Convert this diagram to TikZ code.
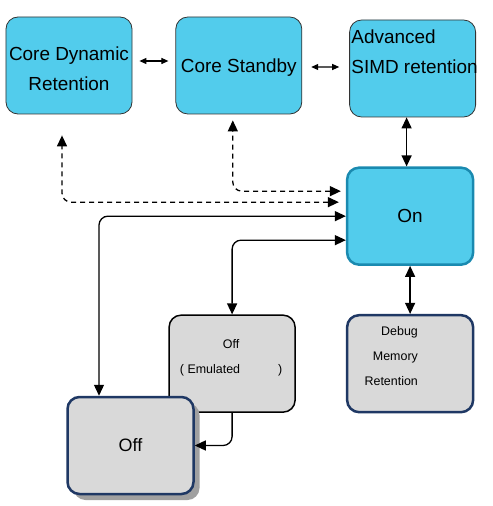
\documentclass[tikz,border=0pt]{standalone}
\usepackage{fontspec}
\setmainfont{Liberation Sans}
\usetikzlibrary{positioning,arrows.meta,shadows}

\definecolor{stateblue}{RGB}{82,204,236}
\definecolor{stategray}{RGB}{217,217,217}
\definecolor{onborder}{RGB}{26,138,176}
\definecolor{navyborder}{RGB}{31,56,100}
\definecolor{shadowgray}{RGB}{160,160,160}

\begin{document}
\begin{tikzpicture}[
    x=1bp, y=-1bp,
    every node/.style={inner sep=0pt},
    state/.style={rectangle, rounded corners=12bp, minimum width=126bp, minimum height=97bp, align=center},
    corestate/.style={state, fill=stateblue, draw=black!80, line width=0.8bp, font=\fontsize{19}{30}\selectfont},
    onstate/.style={state, fill=stateblue, draw=onborder, line width=2.5bp, font=\fontsize{19}{30}\selectfont},
    graystate/.style={state, fill=stategray, draw=navyborder, line width=2.5bp},
    smalltext/.style={font=\fontsize{12.5}{25}\selectfont},
    biarrow/.style={line width=1.3bp, {Triangle[length=11bp,width=10bp]}-{Triangle[length=11bp,width=10bp]}, rounded corners=9bp},
    onearrow/.style={line width=1.3bp, -{Triangle[length=11bp,width=10bp]}, rounded corners=9bp},
    dasharrow/.style={biarrow, dash pattern=on 5bp off 4bp},
    smallarrow/.style={line width=1.1bp, {Triangle[length=7bp,width=6bp]}-{Triangle[length=7bp,width=6bp]}}
  ]
    \useasboundingbox (0,0) rectangle (493,506);

    % Nodes
    \node[corestate] (cdr) at (69,65.5) {};
    \node[font=\fontsize{19}{30}\selectfont, align=center] (cdrtext) at ([yshift=-3bp]cdr.center) {Core Dynamic\\Retention};
    \node[corestate, right=43bp of cdr] (cs) {};
    \node[font=\fontsize{19}{30}\selectfont] (cstext) at ([yshift=-2bp]cs.center) {Core Standby};
    \node[corestate, right=47bp of cs, yshift=-3bp] (asimd) {};
    \node[font=\fontsize{19}{30}\selectfont, align=left, anchor=north west] (asimdtext) at ([xshift=2bp, yshift=-10bp]asimd.north west) {Advanced\\SIMD retention};
    \node[onstate, below=49bp of asimd, xshift=-2.5bp] (on) {On};
    \node[graystate, below=48bp of on] (debug) {};
    \node[smalltext, align=right, anchor=east] (debugtext) at ([xshift=8bp, yshift=7.5bp]debug.center) {Debug\\Memory\\Retention};
    \node[graystate, draw=black, line width=1.5bp, left=50bp of debug] (emu) {};
    \node[smalltext, align=center] (emutext) at ([xshift=-1bp, yshift=6bp]emu.center) {Off\\( Emulated\hspace{38bp})};
    \node[graystate, font=\fontsize{18}{24}\selectfont, drop shadow={shadow xshift=6bp, shadow yshift=-6bp, fill=shadowgray, opacity=1}] (off) at (130.5,445.5) {Off};

    % Arrows
    \draw[smallarrow, shorten <=7bp, shorten >=7bp] ([yshift=4.5bp]cdr.east) -- ([yshift=4.5bp]cs.west);
    \draw[smallarrow, shorten <=9bp, shorten >=10bp] ([yshift=-1.5bp]cs.east) -- ([yshift=1.5bp]asimd.west);
    \draw[biarrow] ([xshift=-6bp]asimd.south) -- ([xshift=-6bp]asimd.south |- on.north);
    \draw[biarrow] (on.south) -- (debug.north);
    \draw[dasharrow, shorten <=5bp, shorten >=6bp] ([yshift=25bp]on.west) -| ([xshift=-6bp]cs.south);
    \draw[dasharrow, shorten <=7bp, shorten >=21bp] ([yshift=14bp]on.west) -| ([xshift=-7bp]cdr.south);
    \draw[biarrow] (on.west) -| ([xshift=-31.5bp]off.north);
    \draw[biarrow] ([yshift=-24bp]on.west) -| (emu.north);
    \draw[onearrow] (emu.south) |- (off.east);
  \end{tikzpicture}
\end{document}
